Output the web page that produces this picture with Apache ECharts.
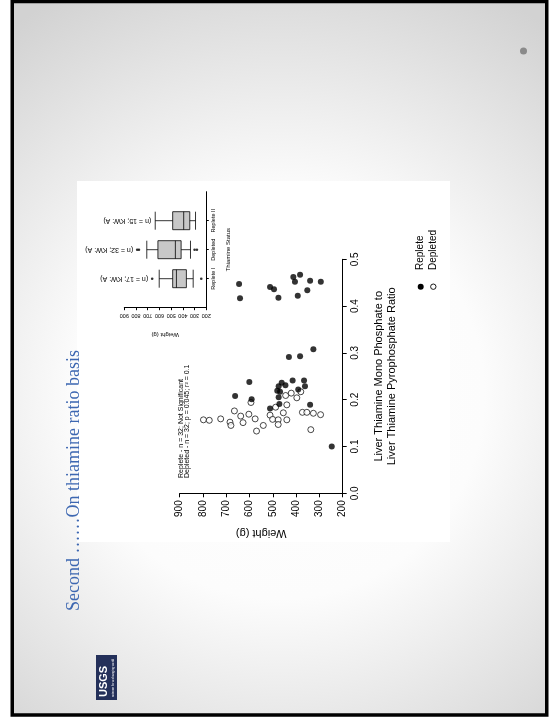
<!DOCTYPE html>
<html><head><meta charset="utf-8">
<script src="https://cdn.jsdelivr.net/npm/echarts@6/dist/echarts.min.js"></script>
<style>html,body{margin:0;padding:0;background:#fff}#c{width:549px;height:717px}</style>
</head><body><div id="c"></div>
<script>
// ---------- data ----------
const repleteWeight = [645, 641, 512, 495, 476, 412, 405, 383, 393, 340, 352, 294,
  326, 383, 431, 601, 415, 366, 462, 475, 446, 362, 391, 481, 469, 662, 591, 475, 472, 340, 512, 247];
const repleteRatio = [0.447, 0.417, 0.441, 0.436, 0.418, 0.462, 0.452, 0.467, 0.422, 0.454, 0.434, 0.452,
  0.308, 0.293, 0.291, 0.238, 0.241, 0.241, 0.236, 0.229, 0.231, 0.229, 0.222, 0.219, 0.217, 0.208, 0.201, 0.205, 0.191, 0.189, 0.181, 0.100];
const depletedWeight = [798, 773, 724, 684, 680, 665, 638, 628, 603, 594, 576, 570, 541, 512, 501,
  488, 477, 477, 455, 440, 445, 440, 421, 397, 380, 373, 354, 337, 326, 295];
const depletedRatio = [0.157, 0.156, 0.159, 0.152, 0.145, 0.176, 0.165, 0.151, 0.169, 0.194, 0.159, 0.133, 0.145, 0.167, 0.158,
  0.184, 0.157, 0.147, 0.172, 0.157, 0.209, 0.189, 0.214, 0.204, 0.217, 0.173, 0.173, 0.136, 0.171, 0.168];
const weightTicks = [200, 300, 400, 500, 600, 700, 800, 900];
const ratioTicks = [0.0, 0.1, 0.2, 0.3, 0.4, 0.5];
const boxCategories = ['Replete I', 'Depleted', 'Replete II'];
const boxStats = [[312, 370, 455, 487, 602], [335, 415, 464, 613, 708], [292, 341, 393, 487, 636]];
const boxOutlierWeight = [662, 243, 790, 775, 300, 280];
const boxOutlierGroup = [0, 0, 1, 1, 1, 1];
const boxLabels = ['(n = 17; KW: A)', '(n = 32; KW: A)', '(n = 15; KW: A)'];
const seriesNames = ['Replete', 'Depleted'];
const statLines = ['Replete - n = 32; Not Significant', 'Depleted - n = 32; p = 0.045; r\u00B2 = 0.1'];
const titleText = 'Second \u2026\u2026On thiamine ratio basis';
const ratioAxisName = 'Liver Thiamine Mono Phosphate to\nLiver Thiamine Pyrophosphate Ratio';

// ---------- chart ----------
const SANS = '"Liberation Sans", Arial, sans-serif';
const chart = echarts.init(document.getElementById('c'), null, {renderer: 'canvas'});
const zip = (a, b) => a.map((v, i) => [v, b[i]]);

const option = {
  animation: false,
  backgroundColor: '#ffffff',
  grid: [
    {left: 179.7, top: 259.3, width: 163, height: 234},
    {left: 124.3, top: 191.7, width: 82, height: 116}
  ],
  xAxis: [
    {
      gridIndex: 0, type: 'value', min: weightTicks[0], max: weightTicks[weightTicks.length - 1], interval: 100, inverse: true, position: 'bottom',
      axisLine: {show: true, lineStyle: {color: '#000', width: 1}},
      axisTick: {show: true, length: 4, lineStyle: {color: '#000'}},
      axisLabel: {rotate: 90, fontSize: 10, color: '#000', fontFamily: SANS, margin: 7, showMinLabel: true, showMaxLabel: true},
      splitLine: {show: false},
      name: 'Weight (g)', nameLocation: 'middle', nameRotate: 180, nameGap: 34,
      nameTextStyle: {fontSize: 11, color: '#000', fontFamily: SANS}
    },
    {
      gridIndex: 1, type: 'value', min: weightTicks[0], max: weightTicks[weightTicks.length - 1], interval: 100, inverse: true, position: 'bottom',
      axisLine: {show: true, lineStyle: {color: '#000', width: 1}},
      axisTick: {show: true, length: 2.5, lineStyle: {color: '#000'}},
      axisLabel: {rotate: 180, fontSize: 5.5, color: '#000', fontFamily: SANS, margin: 5, showMinLabel: true, showMaxLabel: true},
      splitLine: {show: false},
      name: 'Weight (g)', nameLocation: 'middle', nameRotate: 180, nameGap: 24,
      nameTextStyle: {fontSize: 6, color: '#000', fontFamily: SANS}
    }
  ],
  yAxis: [
    {
      gridIndex: 0, type: 'value', min: ratioTicks[0], max: ratioTicks[ratioTicks.length - 1], interval: 0.1, position: 'right',
      axisLine: {show: true, lineStyle: {color: '#000', width: 1}},
      axisTick: {show: true, length: 4, lineStyle: {color: '#000'}},
      axisLabel: {rotate: 90, fontSize: 10, color: '#000', fontFamily: SANS, margin: 8,
        formatter: v => v.toFixed(1), showMinLabel: true, showMaxLabel: true},
      splitLine: {show: false},
      name: ratioAxisName, nameLocation: 'middle', nameRotate: 90, nameGap: 30,
      nameTextStyle: {fontSize: 11, color: '#000', fontFamily: SANS, lineHeight: 13}
    },
    {
      gridIndex: 1, type: 'value', min: 0, max: 4, interval: 1, position: 'right',
      axisLine: {show: true, lineStyle: {color: '#000', width: 1}},
      axisTick: {show: true, length: 2.5, customValues: [1, 2, 3], lineStyle: {color: '#000'}},
      axisLabel: {rotate: 90, fontSize: 5.5, color: '#000', fontFamily: SANS, margin: 4,
        customValues: [1, 2, 3], formatter: v => boxCategories[Math.round(v) - 1] || ''},
      splitLine: {show: false},
      name: 'Thiamine Status', nameLocation: 'middle', nameRotate: 90, nameGap: 19,
      nameTextStyle: {fontSize: 6, color: '#000', fontFamily: SANS}
    }
  ],
  series: [
    {
      name: seriesNames[0], type: 'scatter', xAxisIndex: 0, yAxisIndex: 0,
      symbol: 'circle', symbolSize: 6,
      itemStyle: {color: '#000'},
      data: zip(repleteWeight, repleteRatio), z: 4
    },
    {
      name: seriesNames[1], type: 'scatter', xAxisIndex: 0, yAxisIndex: 0,
      symbol: 'circle', symbolSize: 6,
      itemStyle: {color: '#fff', borderColor: '#000', borderWidth: 0.9},
      data: zip(depletedWeight, depletedRatio), z: 3
    },
    {
      type: 'boxplot', xAxisIndex: 1, yAxisIndex: 1, layout: 'vertical',
      boxWidth: [18, 18],
      itemStyle: {color: '#c8c8c8', borderColor: '#000', borderWidth: 0.8},
      data: boxStats.map((s, i) => [i + 1].concat(s))
    },
    {
      type: 'scatter', xAxisIndex: 1, yAxisIndex: 1, symbol: 'circle', symbolSize: 2.6,
      itemStyle: {color: '#000'},
      data: boxOutlierWeight.map((w, i) => [w, boxOutlierGroup[i] + 1])
    }
  ]
};
chart.setOption(option);

// ---------- decorations / annotations ----------
const rot90 = Math.PI / 2;
function vText(x, y, text, size) {
  return {
    type: 'text', x: x, y: y, rotation: rot90, z: 50,
    style: {text: text, font: size + 'px ' + SANS, fill: '#000', textAlign: 'left', textVerticalAlign: 'middle', verticalAlign: 'middle'}
  };
}
const graphics = [
  {type: 'rect', z: -20, silent: true, shape: {x: 12, y: 1.5, width: 535, height: 714},
    style: {fill: {type: 'radial', x: 0.5, y: 0.55, r: 0.85,
      colorStops: [{offset: 0, color: '#ffffff'}, {offset: 0.45, color: '#fcfcfc'}, {offset: 1, color: '#d2d2d2'}]}}},
  {type: 'rect', z: -10, silent: true, shape: {x: 77, y: 181, width: 373, height: 361}, style: {fill: '#ffffff'}},
  {type: 'rect', z: 100, silent: true, shape: {x: 12.25, y: 1.4, width: 534.5, height: 713.6},
    style: {fill: 'none', stroke: '#000', lineWidth: 3.5}},
  {type: 'text', x: 74, y: 611, rotation: rot90, z: 50,
    style: {text: titleText, font: '18px "Liberation Serif", "DejaVu Serif", serif', fill: '#3d67b1',
      textAlign: 'left', textVerticalAlign: 'middle', verticalAlign: 'middle'}},
  {type: 'circle', z: 50, shape: {cx: 523.5, cy: 51, r: 3.5}, style: {fill: '#8a8a8a'}},
  // USGS logo
  {type: 'rect', z: 50, shape: {x: 96, y: 655, width: 21, height: 45}, style: {fill: '#24305a'}},
  {type: 'text', x: 104, y: 697, rotation: rot90, z: 51,
    style: {text: 'USGS', font: 'bold 11px ' + SANS, fill: '#ffffff', textAlign: 'left', textVerticalAlign: 'middle', verticalAlign: 'middle'}},
  {type: 'text', x: 113, y: 697, rotation: rot90, z: 51,
    style: {text: 'science for a changing world', font: '3px ' + SANS, fill: '#ffffff', textAlign: 'left', textVerticalAlign: 'middle', verticalAlign: 'middle'}},
  // stats text
  vText(180.7, 478, statLines[0], 7),
  vText(187.5, 478, statLines[1], 7),
  // legend
  {type: 'circle', z: 50, shape: {cx: 420.7, cy: 286.7, r: 3}, style: {fill: '#000'}},
  {type: 'circle', z: 50, shape: {cx: 433.3, cy: 286.7, r: 2.7}, style: {fill: '#fff', stroke: '#000', lineWidth: 0.9}},
  vText(420.7, 270, seriesNames[0], 10),
  vText(433.3, 270, seriesNames[1], 10)
];
// n labels placed just beyond the highest weight in each group
boxStats.forEach((s, i) => {
  let top = s[4];
  boxOutlierWeight.forEach((w, j) => { if (boxOutlierGroup[j] === i && w > top) top = w; });
  const p = chart.convertToPixel({xAxisIndex: 1, yAxisIndex: 1}, [top, i + 1]);
  graphics.push({type: 'text', x: p[0] - 4, y: p[1], rotation: Math.PI, z: 50,
    style: {text: boxLabels[i], font: '7px ' + SANS, fill: '#000', textAlign: 'left', textVerticalAlign: 'middle', verticalAlign: 'middle'}});
});
chart.setOption({graphic: {elements: graphics}});
</script>
</body></html>
